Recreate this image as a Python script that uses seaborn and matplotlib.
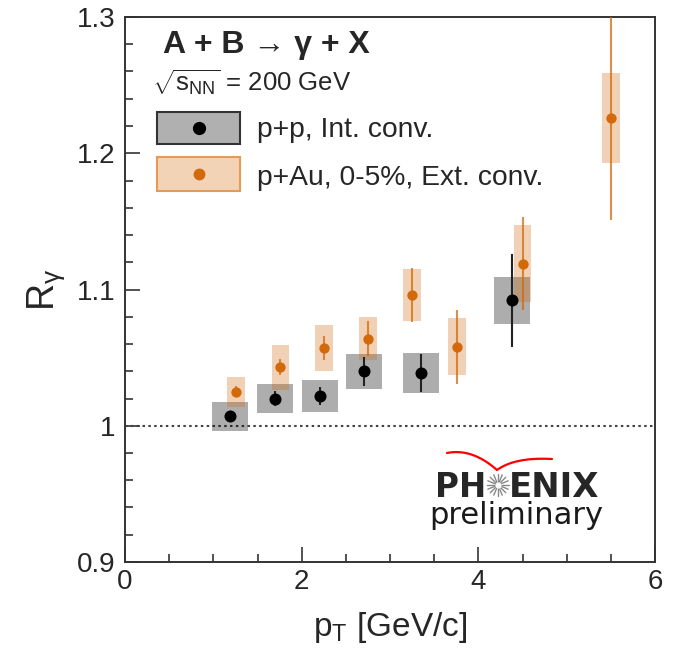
import numpy as np
import pandas as pd
import matplotlib
matplotlib.use('Agg')
import matplotlib.pyplot as plt
import seaborn as sns
from matplotlib.patches import Rectangle

# p+p, internal conversion
pt_pp = [1.19, 1.70, 2.21, 2.71, 3.35, 4.38]
r_pp = [1.007, 1.020, 1.022, 1.040, 1.039, 1.092]
stat_pp = [0.002, 0.0055, 0.0066, 0.0107, 0.014, 0.034]
sys_pp = [0.0105, 0.011, 0.0117, 0.013, 0.0147, 0.017]

# p+Au 0-5%, external conversion
pt_pau = [1.26, 1.76, 2.25, 2.75, 3.25, 3.76, 4.50, 5.50]
r_pau = [1.025, 1.043, 1.057, 1.064, 1.096, 1.058, 1.119, 1.226]
stat_pau = [0.004, 0.006, 0.009, 0.013, 0.020, 0.027, 0.034, 0.075]
sys_pau = [0.011, 0.0165, 0.017, 0.016, 0.019, 0.021, 0.028, 0.033]

x_ticks = [0, 2, 4, 6]
y_ticks = [0.9, 1.0, 1.1, 1.2, 1.3]
y_ticklabels = ['0.9', '1', '1.1', '1.2', '1.3']

df_pp = pd.DataFrame({'pt': pt_pp, 'r': r_pp, 'stat': stat_pp, 'sys': sys_pp})
df_pau = pd.DataFrame({'pt': pt_pau, 'r': r_pau, 'stat': stat_pau, 'sys': sys_pau})

sns.set_theme(style='ticks')
plt.rcParams['font.family'] = ['Liberation Sans', 'DejaVu Sans']
plt.rcParams['mathtext.fontset'] = 'custom'
plt.rcParams['mathtext.rm'] = 'Liberation Sans'
plt.rcParams['mathtext.it'] = 'Liberation Sans'
plt.rcParams['mathtext.bf'] = 'Liberation Sans:bold'

orange = '#d2690a'
axcol = '#333333'

fig = plt.figure(figsize=(6.76, 6.5), dpi=100)
ax = fig.add_axes([125 / 676, 88 / 650, 530 / 676, 545 / 650])

# systematic boxes
ax.bar(df_pp['pt'], 2 * df_pp['sys'], bottom=df_pp['r'] - df_pp['sys'], width=0.41,
       color='black', alpha=0.32, linewidth=0, zorder=2)
ax.bar(df_pau['pt'], 2 * df_pau['sys'], bottom=df_pau['r'] - df_pau['sys'], width=0.2,
       color=orange, alpha=0.3, linewidth=0, zorder=3)

# statistical errors
ax.errorbar(df_pp['pt'], df_pp['r'], yerr=df_pp['stat'], fmt='none', ecolor='#222222',
            elinewidth=1.5, capsize=0, zorder=4)
ax.errorbar(df_pau['pt'], df_pau['r'], yerr=df_pau['stat'], fmt='none', ecolor=orange,
            elinewidth=1.5, alpha=0.75, capsize=0, zorder=5)

sns.scatterplot(data=df_pp, x='pt', y='r', ax=ax, color='black', s=75, linewidth=0, zorder=6)
sns.scatterplot(data=df_pau, x='pt', y='r', ax=ax, color=orange, s=55, linewidth=0, zorder=7)

ax.axhline(1.0, color='#444444', linestyle=(0, (1.2, 1.6)), linewidth=1.5, zorder=1)

ax.set_xlim(0, 6)
ax.set_ylim(0.9, 1.3)
ax.set_xticks(x_ticks)
ax.set_xticklabels([str(t) for t in x_ticks])
ax.set_yticks(y_ticks)
ax.set_yticklabels(y_ticklabels)
ax.set_xticks(np.arange(0, 6.01, 0.5), minor=True)
ax.set_yticks(np.arange(0.9, 1.301, 0.02), minor=True)
ax.tick_params(which='major', direction='in', length=11, width=1.2, color=axcol,
               labelsize=20)
ax.tick_params(axis='y', which='major', pad=7)
ax.tick_params(axis='x', which='major', pad=5)
ax.tick_params(which='minor', direction='in', length=6, width=1.2, color=axcol)
ax.tick_params(axis='x', which='both', top=False, bottom=True)
ax.tick_params(axis='y', which='both', left=True, right=False)
for s in ax.spines.values():
    s.set_color(axcol)
    s.set_linewidth(1.4)

ax.set_xlabel(r'$\mathregular{p_{T}}$ [GeV/c]', fontsize=24)
ax.set_ylabel(r'$\mathregular{R_{\gamma}}$', fontsize=27)
ax.xaxis.set_label_coords(0.5, -0.088)
ax.yaxis.set_label_coords(-0.11, 0.5)

# header text
ax.text(0.072, 0.934, 'A + B → γ + X', transform=ax.transAxes, fontsize=23,
        fontweight='bold', va='baseline', ha='left')
ax.text(0.05, 0.864, r'$\sqrt{s_{\mathregular{NN}}}$ = 200 GeV', transform=ax.transAxes,
        fontsize=18.5, va='baseline', ha='left')

# legend
ax.add_patch(Rectangle((0.0604, 0.767), 0.1566, 0.059, transform=ax.transAxes,
                       facecolor='#b0b0b0', edgecolor='#333333', linewidth=1.5, zorder=8))
ax.add_patch(Rectangle((0.0604, 0.681), 0.1566, 0.062, transform=ax.transAxes,
                       facecolor='#f3d3b5', edgecolor='#e59a55', linewidth=1.5, zorder=8))
ax.plot([0.1396], [0.797], 'o', color='black', markersize=8.5, transform=ax.transAxes, zorder=9)
ax.plot([0.1396], [0.712], 'o', color=orange, markersize=7.5, transform=ax.transAxes, zorder=9)
ax.text(0.249, 0.780, 'p+p, Int. conv.', transform=ax.transAxes, fontsize=20.3,
        va='baseline', ha='left')
ax.text(0.249, 0.692, 'p+Au, 0-5%, Ext. conv.', transform=ax.transAxes, fontsize=20.3,
        va='baseline', ha='left')

# PHENIX preliminary logo
def fx(px):
    return (px - 125) / 530

def fy(py):
    return (562 - py) / 545

ax.text(fx(486), fy(497), 'PH', transform=ax.transAxes, fontsize=23.5,
        fontweight='bold', family='DejaVu Sans', ha='right', va='baseline')
ax.text(fx(509), fy(497), 'ENIX', transform=ax.transAxes, fontsize=24.5,
        fontweight='bold', family='DejaVu Sans', ha='left', va='baseline')
cx, cy = 498, 485
for ang in np.linspace(0, np.pi, 9)[:-1]:
    dx, dy = 11 * np.cos(ang), 11 * np.sin(ang)
    ax.plot([fx(cx - dx), fx(cx + dx)], [fy(cy - dy), fy(cy + dy)], color='#888888',
            linewidth=1.0, transform=ax.transAxes, zorder=8)
ax.plot([fx(cx)], [fy(cy)], 'o', color='white', markersize=3.5, transform=ax.transAxes, zorder=9)
t = np.linspace(0, 1, 30)
lx = (1 - t) ** 2 * 447 + 2 * (1 - t) * t * 472 + t ** 2 * 497
ly = (1 - t) ** 2 * 453 + 2 * (1 - t) * t * 448 + t ** 2 * 470
rx = (1 - t) ** 2 * 497 + 2 * (1 - t) * t * 515 + t ** 2 * 552
ry = (1 - t) ** 2 * 470 + 2 * (1 - t) * t * 457 + t ** 2 * 459
ax.plot(fx(np.concatenate([lx, rx])), fy(np.concatenate([ly, ry])), color='red',
        linewidth=1.6, transform=ax.transAxes, zorder=8)
ax.text(fx(429), fy(524), 'preliminary', transform=ax.transAxes, fontsize=22,
        family='DejaVu Sans', ha='left', va='baseline', color='#1a1a1a')

fig.savefig('out.png', dpi=100)
